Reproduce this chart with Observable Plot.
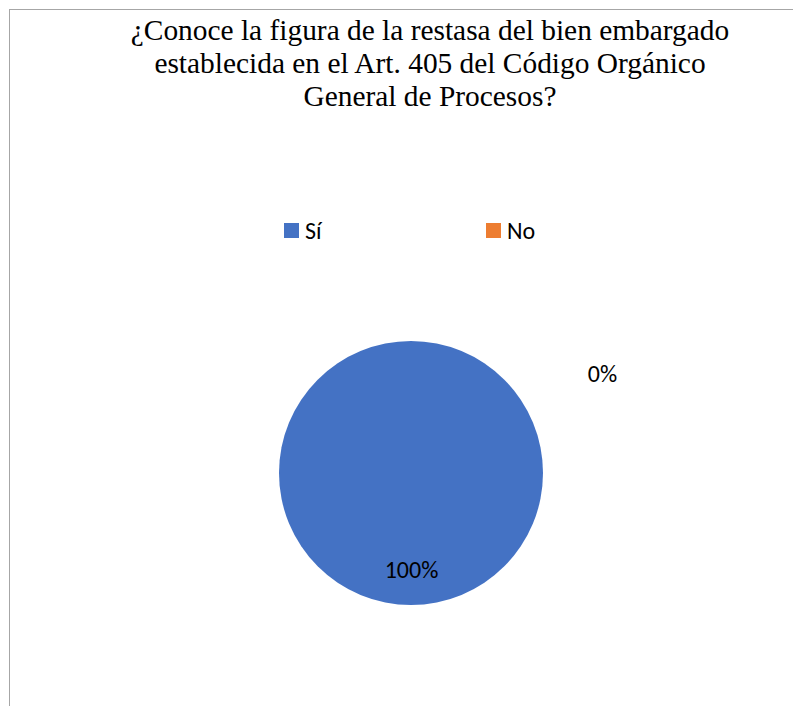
<!DOCTYPE html>
<html>
<head>
<meta charset="utf-8">
<script src="https://cdn.jsdelivr.net/npm/d3@7"></script>
<script src="https://cdn.jsdelivr.net/npm/@observablehq/plot@0.6"></script>
<style>
  body { margin: 0; background: #fff; }
  #wrap { position: relative; width: 793px; height: 706px; overflow: hidden; background: #fff; }
  #chart { position: absolute; left: 0; top: 0; }
  #title { position: absolute; left: 0; top: 14px; width: 860px; text-align: center;
           font-family: "Liberation Serif", "Times New Roman", serif; font-size: 29.4px; line-height: 33px; color: #000; }
  #legend { position: absolute; left: 284px; top: 214px; }
  #legend div, #legend span { font-family: Carlito, Lato, sans-serif !important; font-size: 24px !important; color: #000 !important; }
  #legend span { margin: 0 !important; width: 202px; display: inline-flex; align-items: center; }
  #legend svg { margin-right: 6px !important; }
  #frame { position: absolute; left: 9px; top: 9px; width: 900px; height: 800px;
           border-top: 1.5px solid #a6a6a6; border-left: 1.5px solid #a6a6a6; pointer-events: none; }
</style>
</head>
<body>
<div id="wrap">
  <div id="chart"></div>
  <div id="title">¿Conoce la figura de la restasa del bien embargado<br>establecida en el Art. 405 del Código Orgánico<br>General de Procesos?</div>
  <div id="legend"></div>
  <div id="frame"></div>
</div>
<script>
// ---- data ----
const categories = ["Sí", "No"];
const values = [100, 0];
const labels = ["100%", "0%"];
const colors = ["#4472C4", "#ED7D31"];

// ---- build table ----
const table = categories.map((c, i) => ({category: c, value: values[i], label: labels[i]}));
const arcs = d3.pie().sort(null).value(d => d.value)(table);

const color = Plot.scale({color: {type: "ordinal", domain: categories, range: colors}});

// label layout: inside slices at 0.735 radius, zero slices outside (best fit)
const labelData = arcs.map(a => {
  let ang, r;
  if (a.endAngle - a.startAngle > 0.01) { ang = (a.startAngle + a.endAngle) / 2; r = 0.735; }
  else { ang = a.startAngle + 62.6 * Math.PI / 180; r = 1.63; }
  return {lx: r * Math.sin(ang), ly: r * Math.cos(ang), text: a.data.label};
});

function pieMark(index, scales) {
  const {x, y} = scales;
  const cx = x(0), cy = y(0), r = x(1) - x(0);
  const arc = d3.arc().innerRadius(0).outerRadius(r);
  const g = d3.create("svg:g").attr("transform", `translate(${cx},${cy})`);
  g.selectAll("path").data(arcs).join("path")
    .attr("d", arc)
    .attr("fill", d => color.apply(d.data.category));
  return g.node();
}

const plot = Plot.plot({
  width: 793,
  height: 706,
  margin: 0,
  style: {background: "transparent"},
  x: {domain: [-1, 1], range: [279, 543], axis: null},
  y: {domain: [-1, 1], range: [605, 341], axis: null},
  marks: [
    pieMark,
    Plot.text(labelData, {x: "lx", y: "ly", text: "text", fontFamily: "Carlito, Lato, sans-serif", fontSize: 24, fill: "#000"})
  ]
});
document.getElementById("chart").appendChild(plot);

const legend = Plot.legend({
  color: {type: "ordinal", domain: categories, range: colors},
  swatchSize: 15
});
document.getElementById("legend").appendChild(legend);
</script>
</body>
</html>
